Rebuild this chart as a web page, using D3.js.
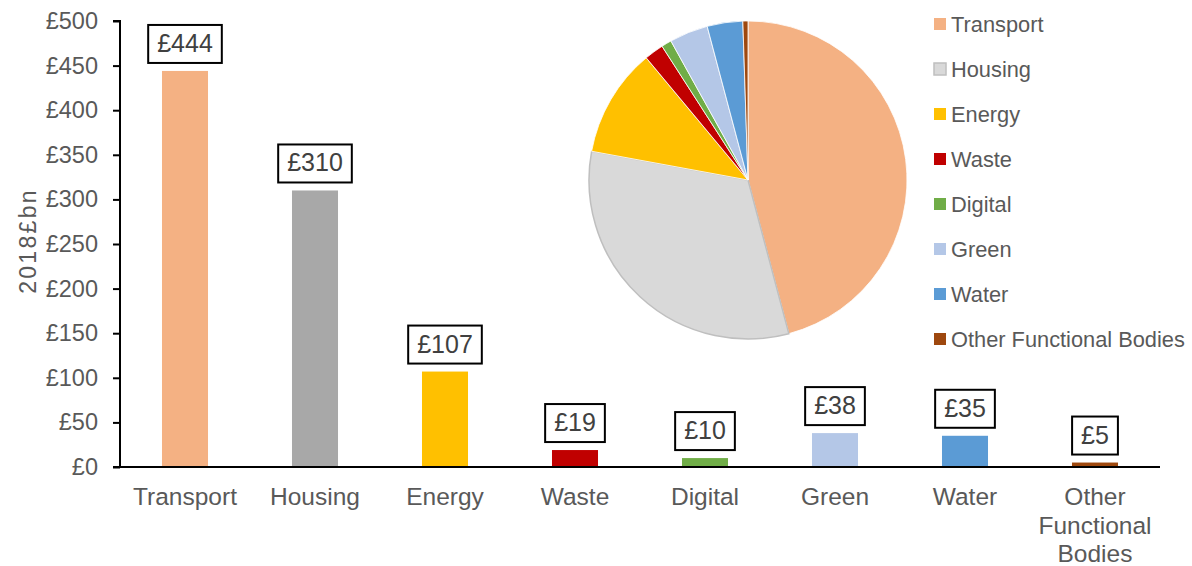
<!DOCTYPE html>
<html>
<head>
<meta charset="utf-8">
<script src="https://cdn.jsdelivr.net/npm/d3@7"></script>
<style>
  html, body { margin: 0; padding: 0; background: #ffffff; }
  svg { display: block; font-family: "Liberation Sans", Arial, sans-serif; }
</style>
</head>
<body>
<svg id="chart" width="1192" height="566"></svg>
<script>
// Infrastructure investment by sector, 2018 £bn
const categories = ["Transport", "Housing", "Energy", "Waste", "Digital", "Green", "Water", "Other Functional Bodies"];
const values = [444, 310, 107, 19, 10, 38, 35, 5];
const barColors = ["#F4B183", "#A8A8A8", "#FFC000", "#C00000", "#70AD47", "#B4C7E7", "#5B9BD5", "#9E480E"];
const pieColors = ["#F4B183", "#D9D9D9", "#FFC000", "#C00000", "#70AD47", "#B4C7E7", "#5B9BD5", "#9E480E"];
const axisLabels = [["Transport"], ["Housing"], ["Energy"], ["Waste"], ["Digital"], ["Green"], ["Water"], ["Other", "Functional", "Bodies"]];
const yTicks = [0, 50, 100, 150, 200, 250, 300, 350, 400, 450, 500];

const svg = d3.select("#chart");
const textGrey = "#595959";

// Scales
const x = d3.scaleBand().domain(categories).range([120, 1160]).paddingInner(0.646).paddingOuter(0.323);
const y = d3.scaleLinear().domain([0, 500]).range([467, 21]);

// Y axis
const yAxis = svg.append("g").attr("transform", "translate(120,0)")
  .call(d3.axisLeft(y).tickValues(yTicks).tickSize(7).tickPadding(15).tickFormat(d => "£" + d));
yAxis.select(".domain").attr("stroke", "#000").attr("stroke-width", 2).attr("d", "M-7,21H0V467");
yAxis.selectAll(".tick line").attr("stroke", "#000").attr("stroke-width", 2);
yAxis.selectAll(".tick text").attr("fill", textGrey).attr("font-size", 23.5)
  .attr("font-family", "Liberation Sans, Arial, sans-serif");

// Y axis title
svg.append("text")
  .attr("transform", "translate(36,241) rotate(-90)")
  .attr("text-anchor", "middle")
  .attr("fill", textGrey).attr("font-size", 23).attr("letter-spacing", 2.3)
  .text("2018£bn");

// Bars
svg.append("g").selectAll("rect").data(categories).join("rect")
  .attr("x", d => x(d))
  .attr("width", x.bandwidth())
  .attr("y", (d, i) => y(values[i]))
  .attr("height", (d, i) => y(0) - y(values[i]))
  .attr("fill", (d, i) => barColors[i]);

// X axis line
svg.append("line").attr("x1", 113).attr("x2", 1160).attr("y1", 467).attr("y2", 467)
  .attr("stroke", "#000").attr("stroke-width", 2);

// Category labels
const catG = svg.append("g");
categories.forEach((c, i) => {
  const t = catG.append("text")
    .attr("x", x(c) + x.bandwidth() / 2)
    .attr("y", 505)
    .attr("text-anchor", "middle")
    .attr("fill", textGrey).attr("font-size", 24.5);
  axisLabels[i].forEach((line, k) => {
    t.append("tspan").attr("x", x(c) + x.bandwidth() / 2).attr("y", 505 + k * 28.5).text(line);
  });
});

// Value labels in boxes
const lblG = svg.append("g");
categories.forEach((c, i) => {
  const cx = x(c) + x.bandwidth() / 2;
  const top = y(values[i]);
  const g = lblG.append("g");
  const t = g.append("text")
    .attr("x", cx).attr("y", top - 8 - 11)
    .attr("text-anchor", "middle")
    .attr("fill", "#404040").attr("font-size", 25)
    .text("£" + values[i]);
  const w = t.node().getComputedTextLength();
  g.insert("rect", "text")
    .attr("x", cx - w / 2 - 9).attr("width", w + 18)
    .attr("y", top - 8 - 38).attr("height", 38)
    .attr("fill", "#fff").attr("stroke", "#000").attr("stroke-width", 2);
});

// Pie of the same values
const pie = d3.pie().sort(null).value(d => d)(values);
const arc = d3.arc().innerRadius(0).outerRadius(159);
svg.append("g").attr("transform", "translate(748,180)")
  .selectAll("path").data(pie).join("path")
  .attr("d", arc)
  .attr("fill", (d, i) => pieColors[i])
  .attr("stroke", (d, i) => i === 1 ? "#BFBFBF" : "#ffffff")
  .attr("stroke-width", (d, i) => i === 1 ? 1.5 : 0.8);

// Legend
const lg = svg.append("g");
categories.forEach((c, i) => {
  const ly = 24 + i * 45;
  lg.append("rect").attr("x", 934).attr("y", ly - 6).attr("width", 12).attr("height", 12)
    .attr("fill", pieColors[i])
    .attr("stroke", i === 1 ? "#BFBFBF" : "none").attr("stroke-width", 1.5);
  lg.append("text").attr("x", 951).attr("y", ly + 7.5)
    .attr("fill", textGrey).attr("font-size", 21.8).text(c);
});
</script>
</body>
</html>
